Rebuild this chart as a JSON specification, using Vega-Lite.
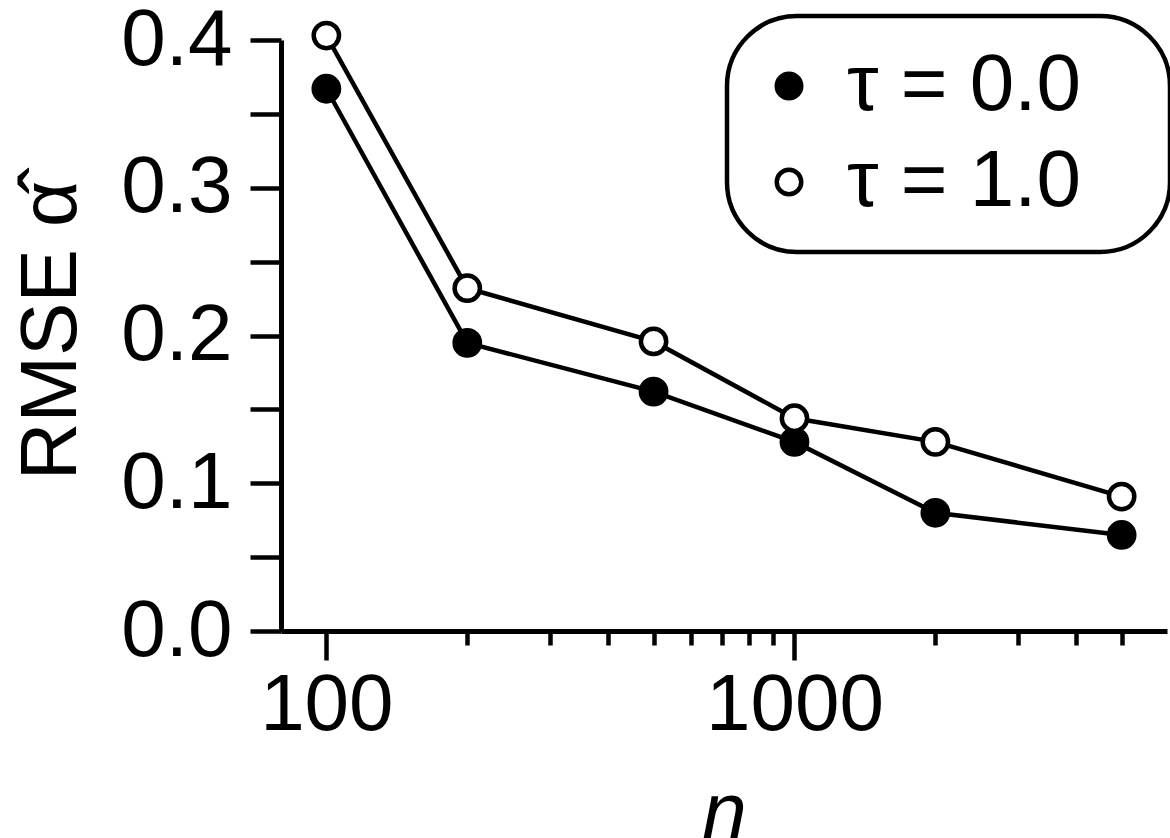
{
  "$schema": "https://vega.github.io/schema/vega-lite/v6.json",
  "width": 886,
  "height": 591,
  "autosize": "none",
  "padding": {"left": 281, "top": 40, "right": 3, "bottom": 207},
  "background": "white",
  "data": {
    "values": [
      {"n": 100, "rmse": 0.367, "tau": "0.0"},
      {"n": 200, "rmse": 0.195, "tau": "0.0"},
      {"n": 500, "rmse": 0.162, "tau": "0.0"},
      {"n": 1000, "rmse": 0.128, "tau": "0.0"},
      {"n": 2000, "rmse": 0.080, "tau": "0.0"},
      {"n": 5000, "rmse": 0.065, "tau": "0.0"},
      {"n": 100, "rmse": 0.403, "tau": "1.0"},
      {"n": 200, "rmse": 0.232, "tau": "1.0"},
      {"n": 500, "rmse": 0.196, "tau": "1.0"},
      {"n": 1000, "rmse": 0.144, "tau": "1.0"},
      {"n": 2000, "rmse": 0.128, "tau": "1.0"},
      {"n": 5000, "rmse": 0.091, "tau": "1.0"}
    ]
  },
  "encoding": {
    "x": {
      "field": "n",
      "type": "quantitative",
      "scale": {"type": "log", "domain": [80, 6250], "nice": false},
      "axis": {
        "title": "n",
        "titleFontStyle": "italic",
        "titleFontWeight": "normal",
        "titleFontSize": 80,
        "titleBaseline": "alphabetic",
        "titleY": 207,
        "values": [100, 200, 300, 400, 500, 600, 700, 800, 900, 1000, 2000, 3000, 4000, 5000],
        "format": "d",
        "labelExpr": "(datum.value == 100 || datum.value == 1000) ? datum.label : ''",
        "labelOverlap": false,
        "labelFlush": false,
        "labelFontSize": 80,
        "labelPadding": 6,
        "tickSize": {"condition": {"test": "datum.value == 100 || datum.value == 1000", "value": 29}, "value": 14},
        "grid": false
      }
    },
    "y": {
      "field": "rmse",
      "type": "quantitative",
      "scale": {"domain": [0, 0.4], "nice": false, "zero": true},
      "axis": {
        "title": "RMSE α̂",
        "titleFontSize": 80,
        "titleFontWeight": "normal",
        "titleAngle": -90,
        "titleAlign": "center",
        "titleBaseline": "alphabetic",
        "titleX": -206,
        "titleY": 290,
        "values": [0, 0.05, 0.1, 0.15, 0.2, 0.25, 0.3, 0.35, 0.4],
        "labelExpr": "abs(datum.value * 10 - round(datum.value * 10)) < 0.001 ? format(datum.value, '.1f') : ''",
        "labelOverlap": false,
        "labelFlush": false,
        "labelFontSize": 80,
        "labelPadding": 18,
        "tickSize": 31,
        "grid": false
      }
    }
  },
  "layer": [
    {
      "mark": {"type": "line", "color": "black", "strokeWidth": 4.5, "clip": false},
      "encoding": {"detail": {"field": "tau", "type": "nominal"}}
    },
    {
      "mark": {"type": "point", "shape": "circle", "filled": true, "size": 640, "stroke": "black", "strokeWidth": 4.5, "opacity": 1, "clip": false},
      "encoding": {
        "fill": {
          "field": "tau",
          "type": "nominal",
          "scale": {"domain": ["0.0", "1.0"], "range": ["black", "white"]},
          "legend": {
            "title": null,
            "orient": "none",
            "legendX": 446,
            "legendY": -24,
            "labelExpr": "'τ = ' + datum.label + '\u2800'",
            "labelFontSize": 80,
            "labelLimit": 600,
            "labelOffset": 18,
            "symbolType": "circle",
            "symbolSize": 600,
            "symbolStrokeColor": "black",
            "symbolStrokeWidth": 4.5,
            "symbolOffset": -8,
            "rowPadding": 16,
            "padding": 30,
            "cornerRadius": 70,
            "strokeColor": "black",
            "fillColor": "white"
          }
        }
      }
    }
  ],
  "config": {
    "font": "Liberation Sans",
    "view": {"stroke": null},
    "axis": {
      "domainColor": "black",
      "domainWidth": 5,
      "tickColor": "black",
      "tickWidth": 4.5,
      "labelColor": "black",
      "titleColor": "black",
      "labelFont": "Liberation Sans",
      "titleFont": "Liberation Sans"
    },
    "legend": {
      "strokeWidth": 4.5,
      "labelColor": "black",
      "labelFont": "Liberation Sans"
    }
  }
}
